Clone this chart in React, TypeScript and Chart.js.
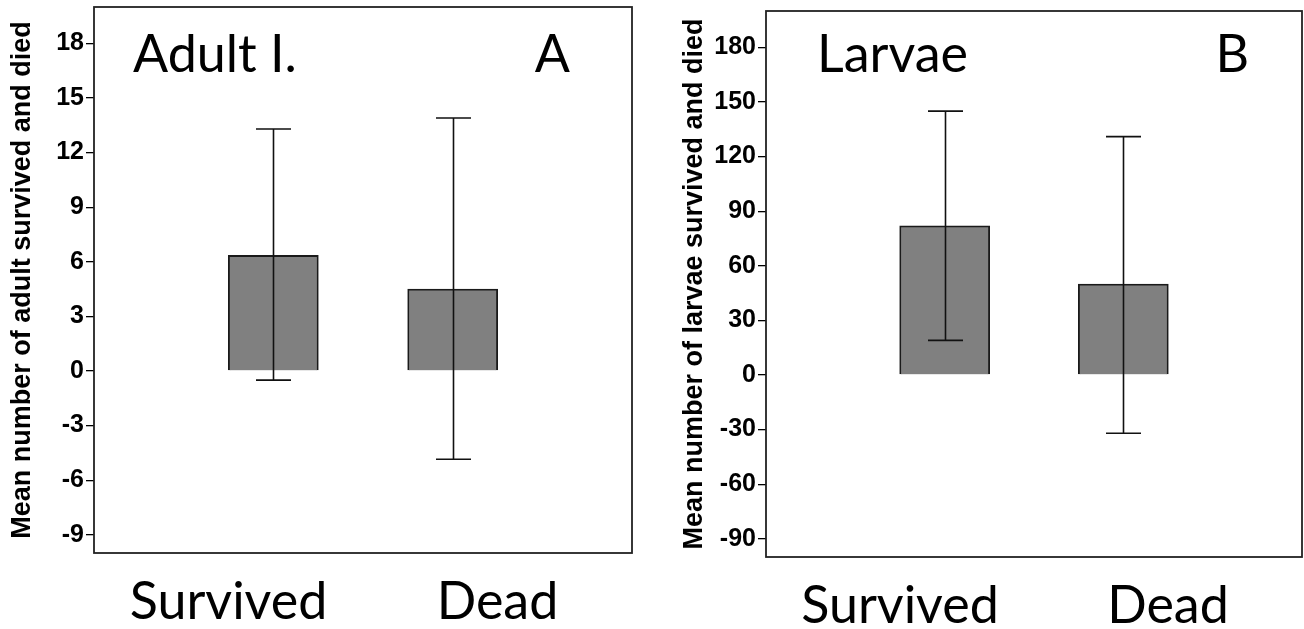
import React, { useEffect, useRef } from 'react';
import { Chart, registerables } from 'chart.js';

Chart.register(...registerables);

// ---- data ----
const categories = ['Survived', 'Dead'];

const adultMeans = [6.35, 4.5];
const adultUpper = [13.3, 13.9];
const adultLower = [-0.5, -4.85];
const adultTicks = [-9, -6, -3, 0, 3, 6, 9, 12, 15, 18];
const adultRange = [-10, 20];

const larvaeMeans = [82, 50];
const larvaeUpper = [145, 131];
const larvaeLower = [19, -32];
const larvaeTicks = [-90, -60, -30, 0, 30, 60, 90, 120, 150, 180];
const larvaeRange = [-100, 200];

type Panel = {
  means: number[];
  upper: number[];
  lower: number[];
  ticks: number[];
  range: number[];
  yTitle: string;
  name: string;
  letter: string;
  left: number;
  width: number;
  pad: { left: number; right: number; top: number };
  xHeight: number;
  nameDx: number;
  letterDx: number;
};

const panels: Panel[] = [
  {
    means: adultMeans, upper: adultUpper, lower: adultLower, ticks: adultTicks, range: adultRange,
    yTitle: 'Mean number of adult survived and died', name: 'Adult I.', letter: 'A',
    left: 0, width: 650, pad: { left: 9, right: 18, top: 7 }, xHeight: 76, nameDx: 39, letterDx: 62,
  },
  {
    means: larvaeMeans, upper: larvaeUpper, lower: larvaeLower, ticks: larvaeTicks, range: larvaeRange,
    yTitle: 'Mean number of larvae survived and died', name: 'Larvae', letter: 'B',
    left: 650, width: 654, pad: { left: 31, right: 2, top: 11 }, xHeight: 72, nameDx: 51, letterDx: 53,
  },
];

const H = 629;

function PanelChart({ p }: { p: Panel }) {
  const ref = useRef<HTMLCanvasElement | null>(null);
  useEffect(() => {
    if (!ref.current) return;
    const padded = ['', ...categories, ''];
    const decor = {
      id: 'decor',
      afterDatasetsDraw(chart: any) {
        const { ctx, chartArea: a, scales } = chart;
        const x = scales.x;
        const y = scales.y;
        const cap = 35;
        ctx.save();
        ctx.strokeStyle = '#111';
        ctx.lineWidth = 1.6;
        p.upper.forEach((u, i) => {
          const px = Math.round(x.getPixelForValue(i + 1)) + 0.5;
          const t = y.getPixelForValue(u);
          const b = y.getPixelForValue(p.lower[i]);
          ctx.beginPath();
          ctx.moveTo(px, t);
          ctx.lineTo(px, b);
          ctx.moveTo(px - cap / 2, t);
          ctx.lineTo(px + cap / 2, t);
          ctx.moveTo(px - cap / 2, b);
          ctx.lineTo(px + cap / 2, b);
          ctx.stroke();
        });
        ctx.strokeStyle = '#222';
        ctx.lineWidth = 1.8;
        ctx.strokeRect(a.left, a.top, a.right - a.left, a.bottom - a.top);
        ctx.fillStyle = '#000';
        ctx.font = '52px Lato';
        ctx.textBaseline = 'alphabetic';
        ctx.textAlign = 'left';
        ctx.fillText(p.name, a.left + p.nameDx, 72);
        ctx.textAlign = 'right';
        ctx.fillText(p.letter, a.right - p.letterDx, 72);
        ctx.restore();
      },
    };
    const chart = new Chart(ref.current, {
      type: 'bar',
      data: {
        labels: padded,
        datasets: [
          {
            data: [null, ...p.means, null],
            backgroundColor: '#808080',
            borderColor: '#1a1a1a',
            borderWidth: 1.8,
            barThickness: 90,
            xAxisID: 'x',
            yAxisID: 'y',
          },
        ],
      },
      options: {
        animation: false,
        responsive: false,
        maintainAspectRatio: false,
        layout: { padding: { left: p.pad.left, right: p.pad.right, top: p.pad.top, bottom: 0 } },
        plugins: { legend: { display: false }, tooltip: { enabled: false }, title: { display: false } },
        scales: {
          x: {
            type: 'category',
            display: false,
            offset: false,
            grid: { display: false },
          },
          xCat: {
            type: 'category',
            labels: categories,
            position: 'bottom',
            offset: true,
            grid: { display: false },
            border: { display: false },
            ticks: {
              color: '#000',
              font: { family: 'Lato', size: 52 },
              padding: 10,
              maxRotation: 0,
              autoSkip: false,
            },
            afterFit: (s: any) => {
              s.height = p.xHeight;
              s.paddingLeft = 0;
              s.paddingRight = 0;
            },
          },
          y: {
            type: 'linear',
            min: p.range[0],
            max: p.range[1],
            border: { display: false },
            grid: { display: true, drawOnChartArea: false, drawTicks: true, tickLength: 8, color: '#000', lineWidth: 1.3 },
            ticks: {
              color: '#000',
              font: { family: 'Liberation Sans', size: 25, weight: 'bold' },
              padding: 2,
            },
            afterBuildTicks: (s: any) => {
              s.ticks = p.ticks.map((v) => ({ value: v }));
            },
            afterFit: (s: any) => {
              s.width = 94 - 9;
              s.paddingTop = 0;
              s.paddingBottom = 0;
            },
            title: {
              display: true,
              text: p.yTitle,
              color: '#000',
              font: { family: 'Liberation Sans', size: 27, weight: 'bold', lineHeight: 1 },
              padding: { top: 0, bottom: 0 },
            },
          },
        },
      },
      plugins: [decor],
    } as any);
    return () => chart.destroy();
  }, [p]);
  return (
    <canvas
      ref={ref}
      width={p.width}
      height={H}
      style={{ position: 'absolute', left: p.left, top: 0, width: p.width, height: H }}
    />
  );
}

export default function App() {
  return (
    <div style={{ position: 'absolute', left: 0, top: 0, width: 1304, height: H, background: '#fff' }}>
      {panels.map((p, i) => (
        <PanelChart key={i} p={p} />
      ))}
    </div>
  );
}
